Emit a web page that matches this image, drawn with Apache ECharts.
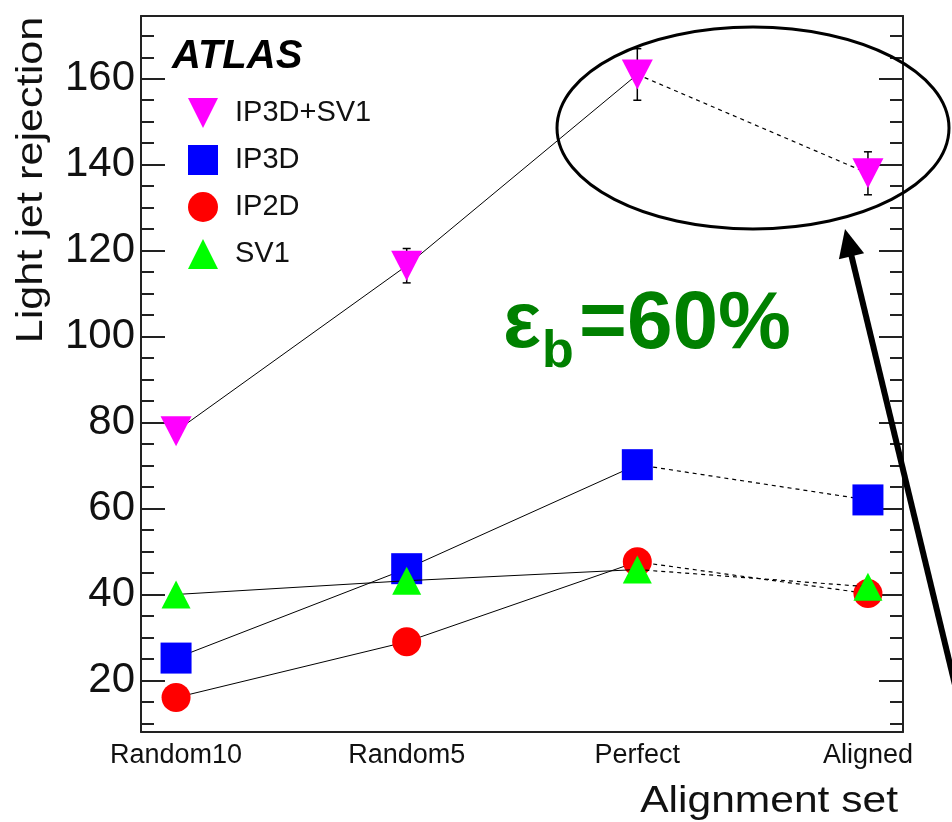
<!DOCTYPE html>
<html>
<head>
<meta charset="utf-8">
<script src="https://cdn.jsdelivr.net/npm/echarts@6/dist/echarts.min.js"></script>
<style>
  html, body { margin: 0; padding: 0; background: #fff; }
  #chart { width: 952px; height: 822px; }
</style>
</head>
<body>
<div id="chart"></div>
<script>
// alignment sets on the x axis
const categories = ['Random10', 'Random5', 'Perfect', 'Aligned'];

// light jet rejection per tagger
const ip3dSv1 = [78, 116.5, 161, 138];
const ip3dSv1Err = [1, 4, 6, 5];
const ip3d = [25.2, 46, 70.2, 62];
const ip2d = [16, 29, 47.6, 40.2];
const sv1 = [40, 43.2, 45.8, 41.8];

// y axis ticks
const yMajor = [20, 40, 60, 80, 100, 120, 140, 160];
const yMinor = [10, 15, 25, 30, 35, 45, 50, 55, 65, 70, 75, 85, 90, 95, 105, 110, 115, 125, 130, 135, 145, 150, 155, 165, 170];

const FONT = '"Liberation Sans", Arial, Helvetica, sans-serif';
const downTri = 'path://M0,0L10,0L5,10Z';

const taggers = [
  { name: 'IP3D+SV1', values: ip3dSv1, color: '#ff00ff', symbol: downTri, size: [31, 30] },
  { name: 'IP3D', values: ip3d, color: '#0000ff', symbol: 'rect', size: 31 },
  { name: 'IP2D', values: ip2d, color: '#ff0000', symbol: 'circle', size: 29 },
  { name: 'SV1', values: sv1, color: '#00ff00', symbol: 'triangle', size: [29, 28] }
];

const buildSeries = () => {
  const out = [];
  // error bars for the combined tagger
  out.push({
    type: 'custom',
    name: 'err',
    z: 1,
    data: ip3dSv1.map((v, i) => [i, v - ip3dSv1Err[i], v + ip3dSv1Err[i]]),
    renderItem: (params, api) => {
      const lo = api.coord([api.value(0), api.value(1)]);
      const hi = api.coord([api.value(0), api.value(2)]);
      const w = 4;
      const st = { stroke: '#000', lineWidth: 1.5 };
      return {
        type: 'group',
        children: [
          { type: 'line', shape: { x1: lo[0], y1: lo[1], x2: hi[0], y2: hi[1] }, style: st },
          { type: 'line', shape: { x1: lo[0] - w, y1: lo[1], x2: lo[0] + w, y2: lo[1] }, style: st },
          { type: 'line', shape: { x1: hi[0] - w, y1: hi[1], x2: hi[0] + w, y2: hi[1] }, style: st }
        ]
      };
    },
    silent: true
  });
  taggers.forEach((t, k) => {
    out.push({
      type: 'line',
      name: t.name + ' solid',
      z: 2 + k * 2,
      data: t.values.slice(0, 3).map((v, i) => [i, v]),
      symbol: 'none',
      lineStyle: { color: '#000', width: 1 },
      silent: true
    });
    out.push({
      type: 'line',
      name: t.name + ' dashed',
      z: 2 + k * 2,
      data: t.values.slice(2).map((v, i) => [i + 2, v]),
      symbol: 'none',
      lineStyle: { color: '#000', width: 1.2, type: [4, 4] },
      silent: true
    });
    out.push({
      type: 'scatter',
      name: t.name,
      z: 3 + k * 2,
      data: t.values.map((v, i) => [i, v]),
      symbol: t.symbol,
      symbolSize: t.size,
      itemStyle: { color: t.color, opacity: 1 }
    });
  });
  return out;
};

const tickAxis = (position, values, len, showLine, showLabel) => ({
  type: 'value',
  position: position,
  min: 8,
  max: 174.6,
  axisLine: { show: showLine, onZero: false, lineStyle: { color: '#222', width: 2 } },
  axisTick: { show: true, inside: true, length: len, customValues: values, lineStyle: { color: '#222', width: 2 } },
  axisLabel: showLabel
    ? { show: true, customValues: yMajor, fontSize: 42, fontFamily: FONT, color: '#111', margin: 6 }
    : { show: false },
  splitLine: { show: false }
});

const chart = echarts.init(document.getElementById('chart'));

chart.setOption({
  animation: false,
  backgroundColor: '#fff',
  grid: { left: 141, right: 49, top: 16, bottom: 90 },
  xAxis: [
    {
      type: 'value',
      min: -0.152,
      max: 3.152,
      position: 'bottom',
      axisLine: { show: true, onZero: false, lineStyle: { color: '#222', width: 2 } },
      axisTick: { show: false },
      axisLabel: {
        customValues: [0, 1, 2, 3],
        formatter: v => categories[Math.round(v)],
        fontSize: 27,
        fontFamily: FONT,
        color: '#111',
        margin: 10
      },
      splitLine: { show: false }
    },
    {
      type: 'value',
      min: -0.152,
      max: 3.152,
      position: 'top',
      axisLine: { show: true, onZero: false, lineStyle: { color: '#222', width: 2 } },
      axisTick: { show: false },
      axisLabel: { show: false },
      splitLine: { show: false }
    }
  ],
  yAxis: [
    tickAxis('left', yMajor, 24, true, true),
    tickAxis('left', yMinor, 13, false, false),
    tickAxis('right', yMajor, 24, true, false),
    tickAxis('right', yMinor, 13, false, false)
  ],
  legend: {
    orient: 'vertical',
    left: 183,
    top: 93,
    itemWidth: 30,
    itemHeight: 30,
    itemGap: 17,
    data: taggers.map(t => ({ name: t.name, icon: t.symbol })),
    textStyle: { fontSize: 29, fontFamily: FONT, color: '#111', padding: [0, 0, 0, 12] },
    selectedMode: false
  },
  graphic: [
    {
      type: 'text', left: 172, top: 37,
      style: { text: 'ATLAS', font: 'italic bold 40px ' + FONT, fill: '#000' }
    },
    {
      type: 'text', x: 32, y: 180, rotation: Math.PI / 2, scaleX: 1.2,
      style: { text: 'Light jet rejection', font: '36px ' + FONT, fill: '#111', align: 'center', verticalAlign: 'middle' }
    },
    {
      type: 'text', x: 898, y: 783, scaleX: 1.15,
      style: { text: 'Alignment set', font: '37px ' + FONT, fill: '#111', align: 'right', verticalAlign: 'top' }
    },
    {
      type: 'text', x: 503, y: 325,
      style: { text: 'ε', font: 'bold 80px ' + FONT, fill: '#008000', align: 'left', verticalAlign: 'middle' }
    },
    {
      type: 'text', x: 542, y: 353,
      style: { text: 'b', font: 'bold 52px ' + FONT, fill: '#008000', align: 'left', verticalAlign: 'middle' }
    },
    {
      type: 'text', x: 579, y: 325,
      style: { text: '=60%', font: 'bold 82px ' + FONT, fill: '#008000', align: 'left', verticalAlign: 'middle' }
    },
    {
      type: 'ellipse', z: 100,
      shape: { cx: 753, cy: 128, rx: 196, ry: 101 },
      style: { fill: 'none', stroke: '#000', lineWidth: 3 }
    },
    {
      type: 'line', z: 100,
      shape: { x1: 851, y1: 254, x2: 990, y2: 830 },
      style: { stroke: '#000', lineWidth: 6 }
    },
    {
      type: 'polygon', z: 100,
      shape: { points: [[845, 229], [838.9, 259.2], [864.1, 253.2]] },
      style: { fill: '#000' }
    }
  ],
  series: buildSeries()
});
</script>
</body>
</html>
